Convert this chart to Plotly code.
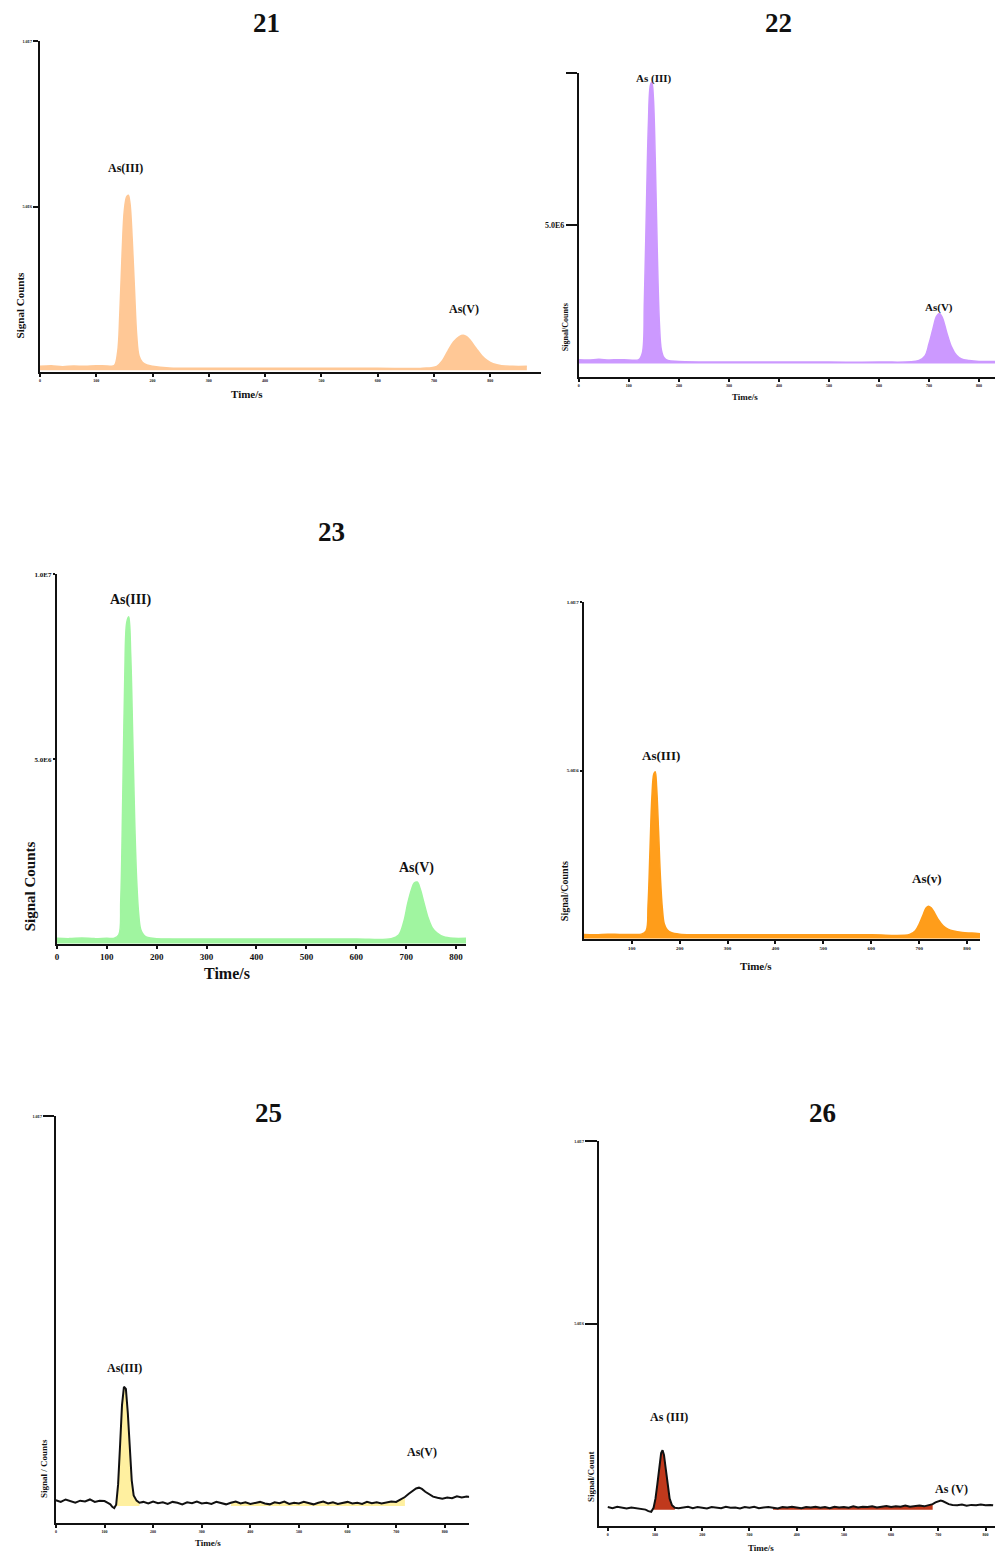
import plotly.graph_objects as go

W, H = 998, 1552
SERIF = "Liberation Serif"

# ---------------- data (time in s, signal in millions of counts) ----------------
x_tick_vals = [0, 100, 200, 300, 400, 500, 600, 700, 800]
x_tick_text = ["0", "100", "200", "300", "400", "500", "600", "700", "800"]
y_tick_text_10 = "1.0E7"
y_tick_text_5 = "5.0E6"

t21 = [0, 20, 40, 60, 80, 100, 120, 132, 138, 142, 146, 150, 154, 157, 160, 164, 168, 172, 176, 182, 190, 200,
       230, 300, 400, 500, 600, 680, 705, 715, 725, 735, 745, 752, 758, 765, 775, 785, 795, 805, 820, 840, 865]
s21 = [0.18, 0.2, 0.17, 0.19, 0.18, 0.2, 0.19, 0.2, 0.6, 1.8, 3.6, 4.9, 5.3, 5.35, 5.1, 4.0, 2.5, 1.1, 0.5, 0.3, 0.22, 0.18,
       0.13, 0.12, 0.12, 0.12, 0.12, 0.12, 0.18, 0.35, 0.65, 0.92, 1.08, 1.12, 1.08, 0.95, 0.72, 0.5, 0.35, 0.26, 0.2, 0.18, 0.18]

t22 = [0, 20, 40, 60, 80, 100, 120, 127, 131, 135, 139, 143, 146, 149, 153, 157, 161, 165, 170, 178, 200,
       300, 400, 500, 600, 680, 692, 700, 708, 715, 721, 727, 735, 745, 755, 765, 780, 800, 832]
s22 = [0.58, 0.57, 0.59, 0.57, 0.58, 0.57, 0.58, 0.8, 2.5, 5.5, 8.3, 9.6, 9.7, 9.2, 7.0, 4.0, 1.8, 0.9, 0.65, 0.55, 0.52,
       0.5, 0.5, 0.5, 0.5, 0.55, 0.7, 1.1, 1.6, 2.0, 2.1, 1.95, 1.5, 1.0, 0.72, 0.6, 0.55, 0.52, 0.52]

t23 = [0, 25, 50, 75, 100, 115, 124, 128, 132, 136, 140, 144, 148, 152, 156, 160, 164, 168, 174, 182, 200,
       300, 400, 500, 600, 670, 685, 695, 703, 710, 716, 722, 728, 735, 743, 752, 762, 775, 795, 820]
s23 = [0.16, 0.15, 0.17, 0.15, 0.16, 0.16, 0.25, 1.2, 4.0, 7.2, 8.7, 8.85, 7.8, 5.6, 3.3, 1.7, 0.8, 0.4, 0.25, 0.18, 0.15,
       0.14, 0.14, 0.14, 0.14, 0.15, 0.25, 0.6, 1.1, 1.45, 1.65, 1.68, 1.5, 1.15, 0.75, 0.45, 0.3, 0.2, 0.16, 0.16]

t24 = [0, 25, 50, 75, 100, 120, 130, 134, 138, 142, 146, 149, 152, 156, 160, 164, 168, 174, 182, 200,
       300, 400, 500, 600, 680, 692, 700, 708, 714, 719, 725, 732, 740, 750, 760, 772, 790, 810, 827]
s24 = [0.14, 0.13, 0.15, 0.14, 0.14, 0.15, 0.25, 1.0, 2.6, 4.2, 4.9, 4.97, 4.5, 3.2, 1.8, 0.9, 0.45, 0.28, 0.2, 0.15,
       0.13, 0.13, 0.13, 0.13, 0.14, 0.25, 0.45, 0.72, 0.92, 0.98, 0.93, 0.78, 0.58, 0.4, 0.3, 0.24, 0.2, 0.18, 0.16]

t25 = [0, 10, 20, 30, 40, 50, 60, 70, 80, 90, 100,
       106, 112, 116, 120, 124, 128, 132, 136, 140, 144, 148, 152, 156, 160, 166, 172,
       180, 190, 200, 210, 220, 230, 240, 250, 260, 270, 280, 290, 300, 310, 320, 330, 340, 350, 360, 370,
       380, 390, 400, 410, 420, 430, 440, 450, 460, 470, 480, 490, 500, 510, 520, 530, 540, 550, 560, 570,
       580, 590, 600, 610, 620, 630, 640, 650, 660, 670, 680, 690, 700,
       710, 718, 726, 734, 741, 747, 753, 760, 768, 776, 785,
       795, 805, 815, 825, 835, 845, 852]
s25 = [0.56, 0.52, 0.58, 0.54, 0.5, 0.55, 0.53, 0.58, 0.52, 0.55, 0.54,
       0.5, 0.46, 0.4, 0.37, 0.45, 0.95, 1.9, 2.9, 3.35, 3.3, 2.7, 1.8, 1.05, 0.68, 0.55, 0.5,
       0.52, 0.48, 0.53, 0.49, 0.51, 0.47, 0.52, 0.5, 0.46, 0.51, 0.49, 0.53, 0.48, 0.5, 0.47, 0.52, 0.49, 0.46, 0.5, 0.53,
       0.48, 0.51, 0.47, 0.5, 0.52, 0.48, 0.46, 0.51, 0.49, 0.53, 0.47, 0.5, 0.48, 0.52, 0.49, 0.46, 0.5, 0.53, 0.48, 0.51,
       0.47, 0.5, 0.52, 0.48, 0.5, 0.47, 0.52, 0.49, 0.51, 0.48, 0.5, 0.53, 0.52,
       0.58, 0.64, 0.72, 0.8, 0.85, 0.87, 0.84, 0.77, 0.7, 0.65, 0.62,
       0.6, 0.63, 0.61, 0.66, 0.63, 0.65, 0.64]

t26 = [0, 10, 20, 30, 40, 50, 60, 70, 80,
       86, 92, 97, 101, 105, 109, 113, 116, 119, 123, 127, 131, 136, 142, 150,
       160, 170, 180, 190, 200, 210, 220, 230, 240, 250, 260, 270, 280, 290, 300, 310, 320, 330, 340, 350,
       360, 370, 380, 390, 400, 410, 420, 430, 440, 450, 460, 470, 480, 490, 500, 510, 520, 530, 540, 550,
       560, 570, 580, 590, 600, 610, 620, 630, 640, 650, 660, 670, 680,
       688, 694, 700, 705, 710, 716, 722, 730,
       740, 750, 760, 770, 780, 790, 800, 810, 816]
s26 = [-0.03, -0.06, -0.02, -0.05, -0.07, -0.04, -0.06, -0.08, -0.1,
       -0.14, -0.16, -0.05, 0.2, 0.6, 1.1, 1.45, 1.53, 1.4, 1.0, 0.55, 0.2, 0.02, -0.05, -0.06,
       -0.05, -0.02, -0.06, -0.03, -0.05, -0.07, -0.03, -0.04, -0.06, -0.02, -0.05, -0.04, -0.07, -0.03, -0.05, -0.02,
       -0.06, -0.04, -0.03, -0.05, -0.07, -0.03, -0.04, -0.02, -0.05, -0.06, -0.03, -0.04, -0.02, -0.05, -0.03, -0.06,
       -0.02, -0.04, -0.03, -0.05, -0.01, -0.04, -0.02, -0.03, -0.01, -0.04, -0.02, 0.0, -0.03, -0.01, -0.02, 0.01,
       -0.02, 0.0, 0.01, -0.01, 0.02,
       0.05, 0.1, 0.13, 0.15, 0.13, 0.09, 0.05, 0.03,
       0.02, 0.04, 0.01, 0.03, 0.02, 0.04, 0.02, 0.03, 0.02]

# integration windows (s) that are shaded in panels 25 and 26
fill_win25 = [(122, 172), (360, 725)]
fill_win26 = [(95, 142), (345, 693)]

# ---------------- figure ----------------
def px(x):
    return x / W


def py(y):
    return 1 - y / H


panels = [
    dict(title="21", tpos=(265, 20), t=t21, s=s21, color="#FFC896", fill="#FFC896", floor=0.06, line=None,
         xdom=(38, 540), ydom=(38, 370), xr=[0, 890], yr=[0, 10.01],
         xtv=x_tick_vals, xtt=x_tick_text, xts=4,
         ytv=[5, 10], ytt=[y_tick_text_5, y_tick_text_10], yts=4, ylen=5,
         ylab=("Signal Counts", 18, 303, 11), xlab=("Time/s", 245, 392, 11),
         peaks=[("As(III)", (0, 400), -3, 27, 12), ("As(V)", (400, 900), 1, 26, 12)]),
    dict(title="22", tpos=(778, 20), t=t22, s=s22, color="#CC99FF", fill="#CC99FF", floor=0.45, line=None,
         xdom=(578, 995), ydom=(70, 375), xr=[0, 832], yr=[0, 10.01],
         xtv=x_tick_vals, xtt=x_tick_text, xts=4,
         ytv=[5, 10], ytt=[y_tick_text_5, ""], yts=8, ylen=11,
         ylab=("Signal/Counts", 565, 325, 8), xlab=("Time/s", 744, 395, 9),
         peaks=[("As (III)", (0, 400), 2, 4, 11), ("As(V)", (400, 900), 0, 6, 11)]),
    dict(title="23", tpos=(330, 530), t=t23, s=s23, color="#A0F5A0", fill="#A0F5A0", floor=0.02, line=None,
         xdom=(55, 465), ydom=(572, 943), xr=[0, 820], yr=[0, 10.01],
         xtv=x_tick_vals, xtt=x_tick_text, xts=9,
         ytv=[5, 10], ytt=[y_tick_text_5, y_tick_text_10], yts=7, ylen=2,
         ylab=("Signal Counts", 28, 885, 15), xlab=("Time/s", 225, 972, 16),
         peaks=[("As(III)", (0, 400), 2, 17, 14), ("As(V)", (400, 900), -1, 14, 14)]),
    dict(title=None, tpos=None, t=t24, s=s24, color="#FF9D1A", fill="#FF9D1A", floor=0.02, line=None,
         xdom=(583, 980), ydom=(600, 938), xr=[0, 827], yr=[0, 10.01],
         xtv=x_tick_vals[1:], xtt=x_tick_text[1:], xts=5,
         ytv=[5, 10], ytt=[y_tick_text_5, y_tick_text_10], yts=5, ylen=2,
         ylab=("Signal/Counts", 563, 890, 10), xlab=("Time/s", 756, 965, 11),
         peaks=[("As(III)", (0, 400), 6, 16, 13), ("As(v)", (400, 900), -1, 28, 13)]),
    dict(title="25", tpos=(267, 1112), t=t25, s=s25, color="#111111", fill="#FFF0A0", floor=0.42, line="#111111",
         wins=fill_win25,
         xdom=(54, 468), ydom=(1115, 1523), xr=[0, 850], yr=[0, 10.01],
         xtv=x_tick_vals, xtt=x_tick_text, xts=4,
         ytv=[10], ytt=[y_tick_text_10], yts=4, ylen=11,
         ylab=("Signal / Counts", 42, 1468, 9), xlab=("Time/s", 206, 1543, 9),
         peaks=[("As(III)", (0, 400), 1, 19, 12), ("As(V)", (400, 900), 3, 36, 12)]),
    dict(title="26", tpos=(822, 1112), t=t26, s=s26, color="#111111", fill="#C0391C", floor=-0.1, line="#111111",
         wins=fill_win26,
         xdom=(598, 995), ydom=(1140, 1526), xr=[-19, 820], yr=[-0.55, 10.01],
         xtv=x_tick_vals, xtt=x_tick_text, xts=4,
         ytv=[5, 10], ytt=[y_tick_text_5, y_tick_text_10], yts=4, ylen=12,
         ylab=("Signal/Count", 590, 1476, 9), xlab=("Time/s", 761, 1548, 9),
         peaks=[("As (III)", (0, 400), 6, 33, 12), ("As (V)", (400, 900), 11, 12, 12)]),
]

fig = go.Figure()
annotations = []
layout_axes = {}

for i, p in enumerate(panels, start=1):
    xa = "x" if i == 1 else f"x{i}"
    ya = "y" if i == 1 else f"y{i}"
    t, s = p["t"], p["s"]

    if p["line"] is None:
        # filled chromatogram (fill from a floor up to signal)
        fig.add_trace(go.Scatter(x=t, y=[p["floor"]] * len(t), mode="lines", line=dict(width=0),
                                 hoverinfo="skip", showlegend=False, xaxis=xa, yaxis=ya))
        fig.add_trace(go.Scatter(x=t, y=s, mode="lines", line=dict(color=p["color"], width=1.5, shape="spline"),
                                 fill="tonexty", fillcolor=p["fill"], showlegend=False, xaxis=xa, yaxis=ya))
    else:
        for (a, b) in p["wins"]:
            tt = [tv for tv in t if a <= tv <= b]
            ss = [sv for tv, sv in zip(t, s) if a <= tv <= b]
            fig.add_trace(go.Scatter(x=tt + tt[::-1], y=ss + [p["floor"]] * len(tt), mode="lines",
                                     line=dict(width=0), fill="toself", fillcolor=p["fill"],
                                     hoverinfo="skip", showlegend=False, xaxis=xa, yaxis=ya))
        fig.add_trace(go.Scatter(x=t, y=s, mode="lines", line=dict(color=p["line"], width=2),
                                 showlegend=False, xaxis=xa, yaxis=ya))

    x0, x1 = p["xdom"]
    yt, yb = p["ydom"]
    axis_common = dict(showgrid=False, zeroline=False, showline=True, linecolor="#111111", linewidth=2,
                       ticks="outside", tickcolor="#111111", tickwidth=1.5, tickmode="array")
    layout_axes["xaxis" if i == 1 else f"xaxis{i}"] = dict(
        axis_common, domain=[px(x0), px(x1)], range=p["xr"], anchor=ya,
        tickvals=p["xtv"], ticktext=p["xtt"], ticklen=3,
        tickfont=dict(family=SERIF, size=p["xts"], color="#111111", weight="bold"))
    layout_axes["yaxis" if i == 1 else f"yaxis{i}"] = dict(
        axis_common, domain=[py(yb), py(yt)], range=p["yr"], anchor=xa,
        tickvals=p["ytv"], ticktext=p["ytt"], ticklen=p["ylen"],
        tickfont=dict(family=SERIF, size=p["yts"], color="#111111", weight="bold"))

    # panel title
    if p["title"]:
        annotations.append(dict(text=f"<b>{p['title']}</b>", x=px(p["tpos"][0]), y=py(p["tpos"][1]),
                                xref="paper", yref="paper", showarrow=False, xanchor="center", yanchor="middle",
                                font=dict(family=SERIF, size=27, color="#111111")))
    # axis titles
    txt, lx, ly, fs = p["ylab"]
    annotations.append(dict(text=f"<b>{txt}</b>", x=px(lx), y=py(ly), xref="paper", yref="paper",
                            showarrow=False, textangle=-90, xanchor="center", yanchor="middle",
                            font=dict(family=SERIF, size=fs, color="#111111")))
    txt, lx, ly, fs = p["xlab"]
    annotations.append(dict(text=f"<b>{txt}</b>", x=px(lx), y=py(ly), xref="paper", yref="paper",
                            showarrow=False, xanchor="center", yanchor="middle",
                            font=dict(family=SERIF, size=fs, color="#111111")))
    # peak labels anchored to the peak maxima found in the data
    for (lab, (a, b), dx, dy, fs) in p["peaks"]:
        cand = [(sv, tv) for tv, sv in zip(t, s) if a <= tv < b]
        vmax, tmax = max(cand)
        annotations.append(dict(text=f"<b>{lab}</b>", x=tmax, y=vmax, xref=xa, yref=ya, showarrow=False,
                                xanchor="center", yanchor="middle", xshift=dx, yshift=dy,
                                font=dict(family=SERIF, size=fs, color="#111111")))

fig.update_layout(width=W, height=H, margin=dict(l=0, r=0, t=0, b=0),
                  paper_bgcolor="white", plot_bgcolor="white", showlegend=False,
                  annotations=annotations, **layout_axes)

fig.write_html("out.html", config={"displayModeBar": False},
               post_script="document.body.style.margin='0';document.body.style.padding='0';"
                           "document.body.style.overflow='hidden';")
